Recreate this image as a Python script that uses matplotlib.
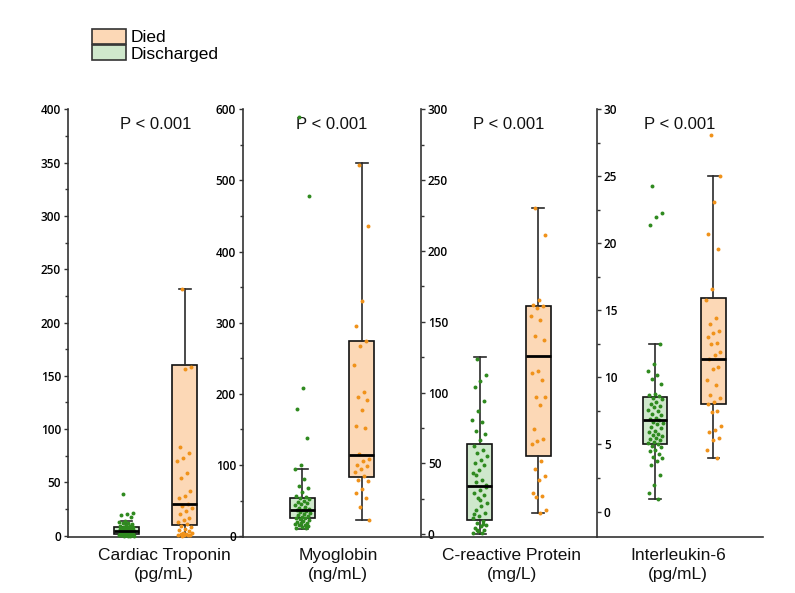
import matplotlib
matplotlib.use("Agg")
import matplotlib.pyplot as plt
from matplotlib.patches import Patch
from matplotlib.ticker import MultipleLocator

# ---------------- data ----------------
categories = ["Cardiac Troponin\n(pg/mL)", "Myoglobin\n(ng/mL)",
              "C-reactive Protein\n(mg/L)", "Interleukin-6\n(pg/mL)"]
groups = ["Discharged", "Died"]
p_labels = ["P < 0.001", "P < 0.001", "P < 0.001", "P < 0.001"]

# box statistics: (whislo, q1, med, q3, whishi)
tro_box_dis = [0, 2, 4.5, 8, 14]
tro_box_died = [0, 10, 30, 160, 231]
myo_box_dis = [10, 25, 37, 53, 94]
myo_box_died = [22, 83, 114, 274, 525]
crp_box_dis = [0, 10, 34, 64, 125]
crp_box_died = [15, 55, 126, 161, 230]
il6_box_dis = [0.9, 5.05, 6.85, 8.55, 12.5]
il6_box_died = [4.0, 8.0, 11.4, 15.9, 25.0]

# individual points
tro_dis = [39, 21, 20, 19.5, 18, 14, 13, 12, 11.5, 11, 10, 9.5, 9, 8.5, 8, 8, 7.5, 7, 7,
           6.5, 6, 6, 5.5, 5, 5, 4.5, 4.5, 4, 4, 3.5, 3.5, 3, 3, 2.5, 2.5, 2, 2, 2, 1.5,
           1.5, 1, 1, 1, 0.5, 0.5, 0.5, 0.2, 0.2, 0.1, 0]
tro_died = [231, 158, 156, 83, 78, 73, 70, 59, 54, 42, 37, 35, 30, 28, 26, 23, 20, 17, 15,
            13, 11, 9, 8, 6, 5, 4, 3, 2.5, 2, 1.5, 1, 0.8, 0.5, 0.3, 0]
myo_dis = [589, 478, 208, 179, 138, 100, 94, 80, 70, 68, 62, 57, 55, 53, 52, 50, 48, 46,
           45, 43, 41, 40, 38, 37, 36, 35, 34, 32, 31, 30, 28, 27, 26, 25, 24, 22, 21, 20,
           19, 18, 17, 16, 15, 14, 13, 12, 11]
myo_died = [522, 436, 330, 295, 274, 267, 241, 202, 196, 192, 177, 155, 152, 116, 109, 106,
            100, 98, 94, 90, 84, 79, 77, 66, 60, 54, 41, 22]
crp_dis = [124, 112.6, 108, 104, 93.8, 86.7, 80.9, 79, 72.6, 71, 66.7, 62, 59.7, 57.3, 55,
           52.6, 50.3, 49, 45.5, 43.2, 38.5, 36.6, 35, 31.4, 29, 28, 25.6, 22, 19.6, 17.3,
           15, 12.6, 11.5, 9, 8, 6.7, 5.5, 4.4, 3.2, 2, 1, 0.5, 42, 33, 24, 14, 7, 3]
crp_died = [230, 211, 165, 162, 161, 160, 154, 151, 140, 137, 115, 114, 109, 97, 97, 91,
            74, 67, 66, 64, 52, 46, 41, 38, 29, 27, 26, 17, 15]
il6_dis = [24.3, 22.3, 22.0, 21.4, 12.5, 11.0, 10.5, 10.2, 9.9, 9.5, 8.8, 8.7, 8.6, 8.5,
           8.4, 8.2, 8.0, 7.9, 7.8, 7.6, 7.5, 7.3, 7.2, 7.0, 6.9, 6.8, 6.7, 6.6, 6.5, 6.3,
           6.2, 6.0, 5.9, 5.8, 5.7, 5.6, 5.5, 5.4, 5.3, 5.2, 5.1, 5.0, 4.9, 4.8, 4.6, 4.5,
           4.3, 4.1, 4.0, 3.8, 3.5, 2.7, 2.0, 1.4, 0.9]
il6_died = [28.1, 25, 23.1, 20.7, 19.6, 16.6, 15.8, 14.4, 14.0, 13.5, 13.3, 13.0, 12.6,
            12.5, 11.9, 11.7, 11.4, 10.8, 10.6, 9.8, 9.4, 8.7, 8.5, 8.2, 8.0, 7.5, 7.4,
            6.4, 6.05, 5.9, 5.5, 5.35, 4.6, 4.0]

panels = [
    (tro_box_dis, tro_box_died, tro_dis, tro_died),
    (myo_box_dis, myo_box_died, myo_dis, myo_died),
    (crp_box_dis, crp_box_died, crp_dis, crp_died),
    (il6_box_dis, il6_box_died, il6_dis, il6_died),
]

# ---------------- style ----------------
ylims = [(-1.2, 400), (-1.3, 600), (-2.0, 300), (-1.9, 30)]
major = [50, 100, 50, 5]
minor = [25, 50, 25, 2.5]
xlims = [(0, 3), (0, 3), (0, 3), (0, 2.85)]
label_x = [0.549, 0.534, 0.517, 0.488]
W, H = 795, 593
edges = [68, 243, 421, 597, 763]
top_px, bot_px = 109.3, 537

fill_died = "#fcd8b6"
fill_dis = "#cfe8cc"
dot_died = "#f0921a"
dot_dis = "#2f8a1f"
line_c = "#2a2a2a"

fig = plt.figure(figsize=(W / 100, H / 100), dpi=100)
tick_font = dict(family="Open Sans", size=8.5, weight="semibold")
text_family = ["Liberation Sans", "DejaVu Sans"]


def jitter(n, width=0.26):
    return [((i * 0.6180339887 + 0.31) % 1 - 0.5) * width for i in range(n)]


for k, (bd, bdied, pdis, pdied) in enumerate(panels):
    left = edges[k] / W
    width = (edges[k + 1] - edges[k]) / W
    bottom = 1 - bot_px / H
    height = (bot_px - top_px) / H
    ax = fig.add_axes([left, bottom, width, height])
    ax.set_xlim(*xlims[k])
    ax.set_ylim(*ylims[k])

    stats = []
    for b, lab in zip([bd, bdied], groups):
        stats.append(dict(whislo=b[0], q1=b[1], med=b[2], q3=b[3], whishi=b[4], label=lab))
    bp = ax.bxp(stats, positions=[1, 2], widths=0.42, patch_artist=True,
                showfliers=False, capwidths=0.2,
                boxprops=dict(edgecolor="#111111", linewidth=1.2),
                whiskerprops=dict(color=line_c, linewidth=1.2),
                capprops=dict(color=line_c, linewidth=1.2),
                medianprops=dict(color="#000000", linewidth=2.0))
    bp["boxes"][0].set_facecolor(fill_dis)
    bp["boxes"][1].set_facecolor(fill_died)
    for m in bp["medians"]:
        m.set_zorder(5)
    for b in bp["boxes"]:
        b.set_zorder(2)

    for pos, pts, col in [(1, pdis, dot_dis), (2, pdied, dot_died)]:
        js = jitter(len(pts))
        ax.scatter([pos + j for j in js], pts, s=8, color=col, zorder=4,
                   linewidths=0, clip_on=False)

    ax.yaxis.set_major_locator(MultipleLocator(major[k]))
    ax.yaxis.set_minor_locator(MultipleLocator(minor[k]))
    ax.set_xticks([])
    for s in ["top", "right"]:
        ax.spines[s].set_visible(False)
    ax.spines["bottom"].set_linewidth(1.2)
    ax.spines["bottom"].set_color("#333333")

    if k < 2:
        ax.spines["left"].set_linewidth(1.2)
        ax.spines["left"].set_color("#333333")
    else:
        ax.spines["left"].set_visible(False)
        ax.spines["right"].set_visible(True)
        ax.spines["right"].set_position(("axes", 0))
        ax.spines["right"].set_linewidth(1.2)
        ax.spines["right"].set_color("#333333")
        ax.yaxis.tick_right()
    ax.tick_params(axis="y", which="major", length=3, width=1, color="#333333", pad=2)
    ax.tick_params(axis="y", which="minor", length=2, width=1, color="#333333")
    lo, hi = ylims[k]
    ticks = [t for t in ax.get_yticks() if 0 <= t <= hi + 1e-9]
    ax.set_yticks(ticks)
    ax.set_yticklabels([f"{t:g}" for t in ticks], **tick_font)
    ax.set_ylim(lo, hi)

    ax.text(0.5, 0.965, p_labels[k], transform=ax.transAxes, ha="center", va="center",
            fontsize=12, family=text_family, color="#111111")
    ax.set_xlabel(categories[k], fontsize=12.5, family=text_family, linespacing=1.3,
                  color="#111111")
    ax.xaxis.set_label_coords(label_x[k], -0.026, transform=ax.transAxes)
    ax.xaxis.label.set_va("top")
    ax.patch.set_alpha(0)

handles = [Patch(facecolor=fill_died, edgecolor="#333333", linewidth=1.2, label="Died"),
           Patch(facecolor=fill_dis, edgecolor="#333333", linewidth=1.2, label="Discharged")]
fig.legend(handles=handles, loc="upper left", bbox_to_anchor=(92 / W, 1 - 29 / H),
           frameon=False, prop=dict(family="Liberation Sans", size=12.5), handlelength=1.95,
           handleheight=0.95, labelspacing=0.0, handletextpad=0.3, borderpad=0,
           borderaxespad=0)

fig.savefig("out.png", dpi=100)
